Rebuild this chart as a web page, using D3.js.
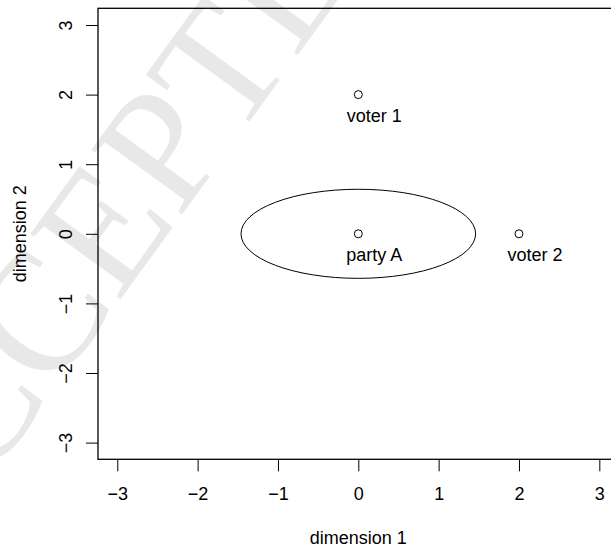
<!DOCTYPE html>
<html>
<head>
<meta charset="utf-8">
<script src="https://cdn.jsdelivr.net/npm/d3@7"></script>
<style>
  body { margin: 0; background: #fff; }
  svg { display: block; font-family: "Liberation Sans", Arial, sans-serif; }
</style>
</head>
<body>
<div id="plot"></div>
<script>
// data
var pointNames = ["voter 1", "party A", "voter 2"];
var pointX = [0, 0, 2];
var pointY = [2, 0, 0];
var ellipseCenter = [0, 0];       // party A indifference curve
var ellipseRadii = [1.46, 0.64];  // in data units (x, y)
var xTicks = [-3, -2, -1, 0, 1, 2, 3];
var yTicks = [-3, -2, -1, 0, 1, 2, 3];
var xLabel = "dimension 1";
var yLabel = "dimension 2";
var watermark = "ACCEPTED MANUSCRIPT";

var W = 611, H = 548;
var fontSize = 18;

var svg = d3.select("#plot").append("svg")
    .attr("width", W)
    .attr("height", H);

// watermark behind everything
svg.append("text")
    .attr("transform", "translate(-88,586) rotate(-54)")
    .attr("font-family", "'Liberation Serif', 'Times New Roman', serif")
    .attr("font-size", 170)
    .attr("fill", "#e8e8e8")
    .text(watermark);

// scales: R style 4% expansion of [-3, 3]
var xScale = d3.scaleLinear().domain([-3.24, 3.24]).range([98, 618.6]);
var yScale = d3.scaleLinear().domain([-3.24, 3.24]).range([459.3, 8.3]);

var fmt = function (d) { return d < 0 ? "\u2212" + Math.abs(d) : String(d); };

// x axis
var xAxis = svg.append("g")
    .attr("transform", "translate(0," + yScale(-3.24) + ")")
    .call(d3.axisBottom(xScale).tickValues(xTicks).tickSize(12).tickPadding(16).tickFormat(fmt));
xAxis.select(".domain").remove();
xAxis.selectAll("line").attr("stroke", "#000");
xAxis.selectAll("text")
    .attr("font-size", fontSize)
    .attr("font-family", "'Liberation Sans', Arial, sans-serif")
    .attr("fill", "#000");

// y axis, labels rotated like R's las=0
var yAxis = svg.append("g")
    .attr("transform", "translate(" + xScale(-3.24) + ",0)")
    .call(d3.axisLeft(yScale).tickValues(yTicks).tickSize(12).tickFormat(fmt));
yAxis.select(".domain").remove();
yAxis.selectAll("line").attr("stroke", "#000");
yAxis.selectAll("text")
    .attr("x", null).attr("dy", null)
    .attr("transform", "translate(-26,0) rotate(-90)")
    .attr("text-anchor", "middle")
    .attr("font-size", fontSize)
    .attr("font-family", "'Liberation Sans', Arial, sans-serif")
    .attr("fill", "#000");

// plot box (right edge falls outside the window)
svg.append("rect")
    .attr("x", xScale(-3.24))
    .attr("y", yScale(3.24))
    .attr("width", xScale(3.24) - xScale(-3.24))
    .attr("height", yScale(-3.24) - yScale(3.24))
    .attr("fill", "none")
    .attr("stroke", "#000")
    .attr("stroke-width", 1.3);

// axis titles
svg.append("text")
    .attr("x", xScale(0))
    .attr("y", 544)
    .attr("text-anchor", "middle")
    .attr("font-size", fontSize)
    .text(xLabel);

svg.append("text")
    .attr("transform", "translate(25.5," + yScale(0) + ") rotate(-90)")
    .attr("text-anchor", "middle")
    .attr("font-size", fontSize)
    .text(yLabel);

// ellipse
svg.append("ellipse")
    .attr("cx", xScale(ellipseCenter[0]))
    .attr("cy", yScale(ellipseCenter[1]))
    .attr("rx", xScale(ellipseRadii[0]) - xScale(0))
    .attr("ry", yScale(0) - yScale(ellipseRadii[1]))
    .attr("fill", "none")
    .attr("stroke", "#000")
    .attr("stroke-width", 1);

var pts = pointNames.map(function (n, i) { return { name: n, x: pointX[i], y: pointY[i] }; });

svg.append("g").selectAll("circle")
    .data(pts)
    .enter()
    .append("circle")
    .attr("cx", function (d) { return xScale(d.x); })
    .attr("cy", function (d) { return yScale(d.y); })
    .attr("r", 4)
    .attr("fill", "none")
    .attr("stroke", "#000")
    .attr("stroke-width", 1);

// labels offset like text(x + 0.2, y - 0.3)
svg.append("g").selectAll("text")
    .data(pts)
    .enter()
    .append("text")
    .attr("x", function (d) { return xScale(d.x + 0.2); })
    .attr("y", function (d) { return yScale(d.y - 0.3); })
    .attr("dy", "0.35em")
    .attr("text-anchor", "middle")
    .attr("font-size", fontSize)
    .attr("fill", "#000")
    .text(function (d) { return d.name; });
</script>
</body>
</html>
